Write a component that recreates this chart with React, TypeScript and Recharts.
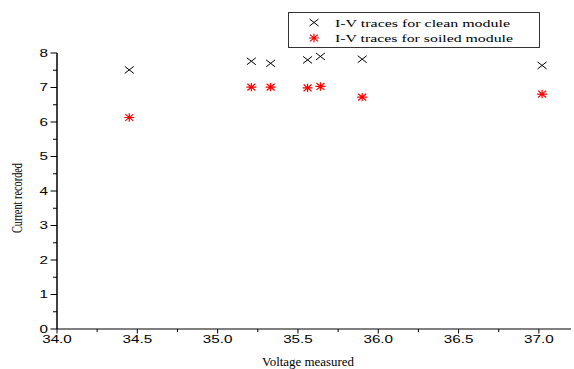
import React from 'react';
import { ScatterChart, Scatter, XAxis, YAxis } from 'recharts';

const voltages = [34.45, 35.21, 35.33, 35.56, 35.64, 35.9, 37.02];
const cleanCurrent = [7.51, 7.76, 7.7, 7.8, 7.9, 7.82, 7.64];
const soiledCurrent = [6.13, 7.01, 7.01, 6.99, 7.03, 6.72, 6.81];

const xTicks = [34.0, 34.25, 34.5, 34.75, 35.0, 35.25, 35.5, 35.75, 36.0, 36.25, 36.5, 36.75, 37.0];
const yTicks = [0, 0.5, 1, 1.5, 2, 2.5, 3, 3.5, 4, 4.5, 5, 5.5, 6, 6.5, 7, 7.5, 8];

const cleanData = voltages.map((v, i) => ({ v, i: cleanCurrent[i] }));
const soiledData = voltages.map((v, i) => ({ v, i: soiledCurrent[i] }));

const SANS = 'Liberation Sans, Arial, sans-serif';
const SERIF = 'Liberation Serif, Times New Roman, serif';

const Cross = ({ cx, cy }: any) => (
  <path
    d={`M${cx - 4.5},${cy - 3.5}L${cx + 4.5},${cy + 3.5}M${cx - 4.5},${cy + 3.5}L${cx + 4.5},${cy - 3.5}`}
    stroke="#000"
    strokeWidth={1}
    fill="none"
  />
);

const Star = ({ cx, cy }: any) => (
  <path
    d={`M${cx - 5},${cy}L${cx + 5},${cy}M${cx},${cy - 4.2}L${cx},${cy + 4.2}M${cx - 4},${cy - 3.4}L${cx + 4},${cy + 3.4}M${cx - 4},${cy + 3.4}L${cx + 4},${cy - 3.4}`}
    stroke="#ff0000"
    strokeWidth={1.2}
    fill="none"
  />
);

const XTick = ({ x, y, payload }: any) => {
  const v = payload.value;
  const major = Math.abs(v * 2 - Math.round(v * 2)) < 1e-6;
  return (
    <g>
      <line x1={x} x2={x} y1={y} y2={y + (major ? 4.5 : 3)} stroke="#000" />
      {major && (
        <text
          transform={`translate(${x},${y + 14}) scale(1.45,1)`}
          textAnchor="middle"
          fontSize={10.5}
          fontFamily={SANS}
          fill="#000"
        >
          {v.toFixed(1)}
        </text>
      )}
    </g>
  );
};

const YTick = ({ x, y, payload }: any) => {
  const v = payload.value;
  const major = Number.isInteger(v);
  return (
    <g>
      <line x1={x} x2={x - (major ? 6.5 : 4)} y1={y} y2={y} stroke="#000" />
      {major && (
        <text
          transform={`translate(${x - 9},${y + 3.8}) scale(1.45,1)`}
          textAnchor="end"
          fontSize={10.5}
          fontFamily={SANS}
          fill="#000"
        >
          {v}
        </text>
      )}
    </g>
  );
};

const XTitle = () => (
  <text
    x={308}
    y={366}
    textAnchor="middle"
    fontSize={13}
    fontFamily={SERIF}
    textLength={92}
    lengthAdjust="spacingAndGlyphs"
    fill="#000"
  >
    Voltage measured
  </text>
);

const YTitle = () => (
  <text
    transform="translate(22,198) scale(1.45,1) rotate(-90)"
    textAnchor="middle"
    fontSize={10}
    fontFamily={SERIF}
    textLength={70}
    lengthAdjust="spacingAndGlyphs"
    fill="#000"
  >
    Current recorded
  </text>
);

const LegendBox = () => (
  <svg width={252} height={36} style={{ display: 'block' }}>
    <rect x={0.5} y={0.5} width={251} height={35} fill="#fff" stroke="#333" />
    <Cross cx={26} cy={10.5} />
    <text x={47} y={14.5} fontSize={11} fontFamily={SERIF} textLength={175} lengthAdjust="spacingAndGlyphs">
      I-V traces for clean module
    </text>
    <Star cx={26} cy={26} />
    <text x={47} y={30} fontSize={11} fontFamily={SERIF} textLength={178} lengthAdjust="spacingAndGlyphs">
      I-V traces for soiled module
    </text>
  </svg>
);

export default function App() {
  return (
    <div style={{ position: 'absolute', left: 0, top: 0, width: 574, height: 369, background: '#fff' }}>
      <ScatterChart width={574} height={369} margin={{ top: 53, right: 3, left: 0, bottom: 0 }}>
        <XAxis
          type="number"
          dataKey="v"
          domain={[34, 37.2]}
          ticks={xTicks}
          interval={0}
          allowDataOverflow
          height={40}
          tickSize={0}
          tickMargin={0}
          tickLine={false}
          tick={<XTick />}
          axisLine={{ stroke: '#000', strokeWidth: 1 }}
          label={<XTitle />}
        />
        <YAxis
          type="number"
          dataKey="i"
          domain={[0, 8]}
          ticks={yTicks}
          interval={0}
          width={57}
          tickSize={0}
          tickMargin={0}
          tickLine={false}
          tick={<YTick />}
          axisLine={{ stroke: '#000', strokeWidth: 1.5 }}
          label={<YTitle />}
        />
        <Scatter name="clean" data={cleanData} shape={<Cross />} isAnimationActive={false} />
        <Scatter name="soiled" data={soiledData} shape={<Star />} isAnimationActive={false} />
      </ScatterChart>
      <div style={{ position: 'absolute', left: 288, top: 12 }}>
        <LegendBox />
      </div>
    </div>
  );
}
